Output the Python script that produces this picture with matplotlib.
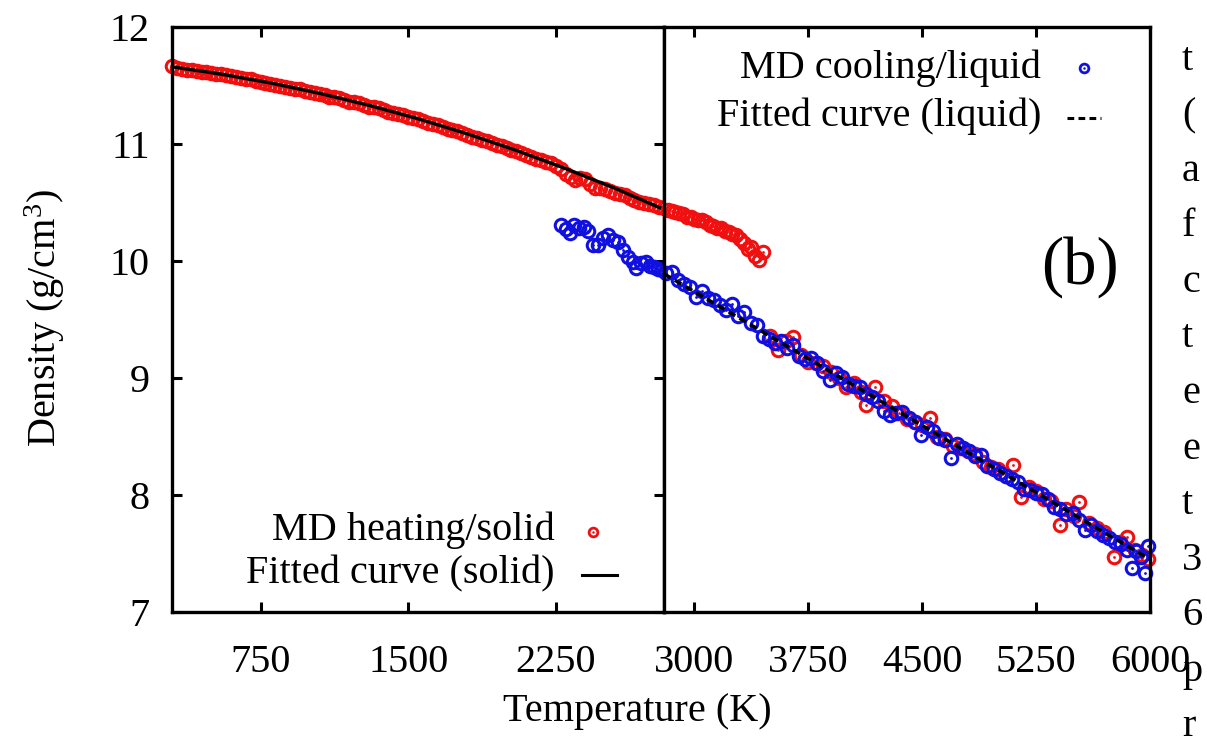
import matplotlib
matplotlib.use('Agg')
import matplotlib.pyplot as plt
from matplotlib.lines import Line2D

plt.rcParams['font.family'] = ['Liberation Serif', 'DejaVu Serif']
plt.rcParams['mathtext.fontset'] = 'custom'
plt.rcParams['mathtext.rm'] = 'Liberation Serif'
plt.rcParams['mathtext.it'] = 'Liberation Serif:italic'

# ---------------- data ----------------
# MD heating, solid branch (left panel)
heat_T_solid = [300, 325, 350, 375, 400, 425, 450, 475, 500, 525, 550, 575, 600, 625, 650,
                675, 700, 725, 750, 775, 800, 825, 850, 875, 900, 925, 950, 975, 1000,
                1025, 1050, 1075, 1100, 1125, 1150, 1175, 1200, 1225, 1250, 1275, 1300,
                1325, 1350, 1375, 1400, 1425, 1450, 1475, 1500, 1525, 1550, 1575, 1600,
                1625, 1650, 1675, 1700, 1725, 1750, 1775, 1800, 1825, 1850, 1875, 1900,
                1925, 1950, 1975, 2000, 2025, 2050, 2075, 2100, 2125, 2150, 2175, 2200,
                2225, 2250, 2275, 2300, 2325, 2350, 2375, 2400, 2425, 2450, 2475, 2500,
                2525, 2550, 2575, 2600, 2625, 2650, 2675, 2700, 2725, 2750, 2775, 2800]
heat_d_solid = [11.665, 11.652, 11.640, 11.636, 11.630, 11.622, 11.618, 11.615, 11.605,
                11.598, 11.600, 11.586, 11.578, 11.572, 11.560, 11.558, 11.555, 11.540,
                11.530, 11.525, 11.515, 11.508, 11.500, 11.490, 11.478, 11.472, 11.468,
                11.455, 11.445, 11.440, 11.430, 11.418, 11.405, 11.398, 11.390, 11.375,
                11.362, 11.355, 11.348, 11.335, 11.320, 11.312, 11.305, 11.290, 11.275,
                11.265, 11.258, 11.245, 11.228, 11.222, 11.212, 11.198, 11.182, 11.172,
                11.160, 11.148, 11.128, 11.120, 11.110, 11.092, 11.075, 11.062, 11.050,
                11.038, 11.022, 11.010, 10.995, 10.980, 10.962, 10.950, 10.938, 10.920,
                10.905, 10.890, 10.872, 10.862, 10.848, 10.835, 10.815, 10.790, 10.745,
                10.715, 10.690, 10.710, 10.700, 10.655, 10.625, 10.620, 10.615, 10.600,
                10.585, 10.570, 10.560, 10.540, 10.520, 10.505, 10.495, 10.490, 10.475,
                10.460, 10.450]
# MD heating, superheated solid + liquid (right panel)
heat_T_liquid = [2825, 2850, 2875, 2900, 2925, 2950, 2975, 3000, 3025, 3050, 3075, 3100,
                 3125, 3150, 3175, 3200, 3225, 3250, 3275, 3300, 3325, 3350, 3375, 3400,
                 3425, 3450,
                 3500, 3550, 3600, 3650, 3700, 3750, 3800, 3850, 3900, 3950, 4000, 4050,
                 4100, 4130, 4190, 4250, 4300, 4350, 4400, 4450, 4500, 4550, 4600, 4650,
                 4700, 4750, 4800, 4850, 4900, 4950, 5000, 5050, 5100, 5150, 5200, 5250,
                 5300, 5350, 5410, 5450, 5500, 5530, 5600, 5650, 5700, 5760, 5800, 5850,
                 5900, 5950, 5990]
heat_d_liquid = [10.44, 10.43, 10.42, 10.41, 10.40, 10.38, 10.38, 10.36, 10.35, 10.35,
                 10.33, 10.31, 10.30, 10.28, 10.28, 10.26, 10.25, 10.23, 10.22, 10.19,
                 10.15, 10.10, 10.12, 10.04, 10.01, 10.08,
                 9.36, 9.24, 9.32, 9.35, 9.20, 9.14, 9.13, 9.10, 9.05, 9.00, 8.92, 8.96,
                 8.88, 8.77, 8.92, 8.80, 8.76, 8.70, 8.65, 8.62, 8.60, 8.66, 8.50, 8.48,
                 8.42, 8.40, 8.38, 8.35, 8.28, 8.24, 8.22, 8.16, 8.26, 7.98, 8.07, 8.03,
                 7.97, 7.95, 7.74, 7.88, 7.82, 7.94, 7.76, 7.72, 7.68, 7.47, 7.60, 7.64,
                 7.53, 7.49, 7.45]
# MD cooling, supercooled liquid (left panel)
cool_T_super = [2276, 2300, 2320, 2342, 2370, 2393, 2415, 2440, 2464, 2490, 2515, 2540,
                2566, 2591, 2617, 2640, 2658, 2685, 2708, 2730, 2749, 2770, 2790]
cool_d_super = [10.31, 10.27, 10.24, 10.31, 10.28, 10.29, 10.26, 10.14, 10.14, 10.20,
                10.22, 10.18, 10.16, 10.09, 10.03, 9.99, 9.94, 9.98, 9.99, 9.96, 9.95,
                9.93, 9.92]
# MD cooling, liquid (right panel)
cool_T_liquid = [2810, 2850, 2890, 2930, 2970, 3010, 3050, 3090, 3130, 3170, 3210, 3250,
                 3290, 3330, 3370, 3410, 3450, 3490, 3530, 3570, 3610, 3650, 3690, 3730,
                 3770, 3810, 3850, 3890, 3930, 3970, 4010, 4050, 4090, 4130, 4170, 4210,
                 4250, 4290, 4330, 4370, 4410, 4450, 4490, 4530, 4570, 4610, 4650, 4690,
                 4730, 4770, 4810, 4850, 4890, 4930, 4970, 5010, 5050, 5090, 5130, 5170,
                 5210, 5250, 5290, 5330, 5370, 5410, 5450, 5490, 5530, 5570, 5610, 5650,
                 5690, 5730, 5770, 5810, 5850, 5880, 5910, 5940, 5970, 5990]
cool_d_liquid = [9.90, 9.91, 9.84, 9.80, 9.78, 9.69, 9.74, 9.68, 9.67, 9.62, 9.58, 9.63,
                 9.53, 9.56, 9.47, 9.45, 9.36, 9.33, 9.30, 9.32, 9.26, 9.28, 9.19, 9.16,
                 9.17, 9.13, 9.06, 8.98, 9.04, 9.01, 8.95, 8.93, 8.92, 8.86, 8.84, 8.80,
                 8.72, 8.68, 8.70, 8.71, 8.66, 8.62, 8.51, 8.58, 8.55, 8.49, 8.47, 8.32,
                 8.44, 8.40, 8.38, 8.33, 8.34, 8.25, 8.22, 8.19, 8.16, 8.14, 8.11, 8.05,
                 8.04, 8.02, 8.01, 7.97, 7.90, 7.88, 7.84, 7.85, 7.79, 7.70, 7.74, 7.69,
                 7.66, 7.63, 7.60, 7.58, 7.53, 7.38, 7.52, 7.47, 7.33, 7.56]
# fitted curves
fit_solid_T = [300, 550, 800, 1050, 1300, 1550, 1800, 2050, 2300, 2550, 2800]
fit_solid_d = [11.660, 11.597, 11.522, 11.433, 11.331, 11.216, 11.087, 10.945, 10.790,
               10.622, 10.440]
fit_liquid_T = [2800, 3200, 3600, 4000, 4400, 4800, 5200, 5600, 6000]
fit_liquid_d = [9.89, 9.585, 9.28, 8.975, 8.67, 8.365, 8.06, 7.755, 7.45]

left_xticks = [750, 1500, 2250]
right_xticks = [3000, 3750, 4500, 5250, 6000]
yticks = [7, 8, 9, 10, 11, 12]

RED = '#f01010'
BLUE = '#1010e0'

# ---------------- figure ----------------
W, H = 1207, 740
fig = plt.figure(figsize=(W / 100, H / 100), dpi=100)


def fx(px):
    return px / W


def fy(py):
    return 1 - py / H


L, M, R, T, B = 172, 664, 1150, 27, 612
ax1 = fig.add_axes([fx(L), fy(B), (M - L) / W, (B - T) / H])
ax2 = fig.add_axes([fx(M), fy(B), (R - M) / W, (B - T) / H])

FS = 29
MS = 9.0
MEW = 2.2


def scatter(ax, x, y, color, z):
    ax.plot(x, y, ls='none', marker='o', ms=MS, mfc='none', mec=color, mew=MEW,
            clip_on=False, zorder=z)
    ax.plot(x, y, ls='none', marker='o', ms=2.0, mfc=color, mec=color, mew=0,
            clip_on=False, zorder=z)


scatter(ax1, heat_T_solid, heat_d_solid, RED, 2)
scatter(ax1, cool_T_super, cool_d_super, BLUE, 3)
ax1.plot(fit_solid_T, fit_solid_d, color='black', lw=2.4, zorder=4)

scatter(ax2, heat_T_liquid, heat_d_liquid, RED, 2)
scatter(ax2, cool_T_liquid, cool_d_liquid, BLUE, 3)
ax2.plot(fit_liquid_T, fit_liquid_d, color='black', lw=2.5, ls=(0, (2.2, 1.4)), zorder=4)

for ax in (ax1, ax2):
    ax.set_ylim(7, 12)
    for s in ax.spines.values():
        s.set_linewidth(2.4)
        s.set_zorder(6)
    ax.tick_params(direction='in', length=7, width=2.2, top=True, labelsize=FS,
                   pad=23, colors='black')

ax1.set_xlim(300, 2800)
ax1.set_xticks(left_xticks)
ax1.set_yticks(yticks)
ax1.tick_params(axis='y', right=True, pad=16)

ax2.set_xlim(2800, 6000)
ax2.set_xticks(right_xticks)
ax2.set_yticks([])

# axis labels
fig.text(fx(637), fy(712), 'Temperature (K)', ha='center', va='center', fontsize=FS)
fig.text(fx(45), fy(318), 'Density (g/cm$^3$)', rotation=90, ha='center',
         va='center', fontsize=FS)

# panel tag
fig.text(fx(1080), fy(267), '(b)', ha='center', va='center', fontsize=48)

# legend: heating / solid (bottom-left)
fig.text(fx(555), fy(540), 'MD heating/solid', ha='right', va='baseline', fontsize=FS)
fig.text(fx(555), fy(583), 'Fitted curve (solid)', ha='right', va='baseline', fontsize=FS)
fig.add_artist(Line2D([fx(593)], [fy(532)], ls='none', marker='o', ms=6.3, mfc='none',
                      mec=RED, mew=2.0))
fig.add_artist(Line2D([fx(593)], [fy(532)], ls='none', marker='o', ms=1.8, mfc=RED,
                      mec=RED, mew=0))
fig.add_artist(Line2D([fx(582), fx(617)], [fy(575), fy(575)], color='black', lw=2.2))

# legend: cooling / liquid (top-right)
fig.text(fx(1041), fy(78), 'MD cooling/liquid', ha='right', va='baseline', fontsize=FS)
fig.text(fx(1041), fy(126), 'Fitted curve (liquid)', ha='right', va='baseline', fontsize=FS)
fig.add_artist(Line2D([fx(1084)], [fy(68)], ls='none', marker='o', ms=6.3, mfc='none',
                      mec=BLUE, mew=2.0))
fig.add_artist(Line2D([fx(1084)], [fy(68)], ls='none', marker='o', ms=1.8, mfc=BLUE,
                      mec=BLUE, mew=0))
fig.add_artist(Line2D([fx(1067), fx(1101)], [fy(118), fy(118)], color='black', lw=2.2,
                      ls=(0, (2.2, 1.4))))

# fragment of neighbouring page text at right edge
side_letters = ['t', '(', 'a', 'f', 'c', 't', 'e', 'e', 't', '3', '6', 'p', 'r']
for i, ch in enumerate(side_letters):
    fig.text(fx(1182), fy(70 + 55.5 * i), ch, ha='left', va='baseline', fontsize=FS)

fig.savefig('out.png', dpi=100)
